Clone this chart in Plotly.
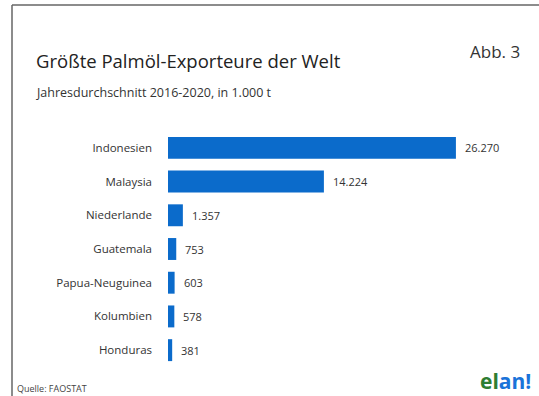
import plotly.graph_objects as go

countries = ["Indonesien", "Malaysia", "Niederlande", "Guatemala", "Papua-Neuguinea", "Kolumbien", "Honduras"]
values = [26270, 14224, 1357, 753, 603, 578, 381]

W, H = 539, 396
L, R, T, B = 168, 40, 131, 29
PW, PH = W - L - R, H - T - B

def px(x):
    return (x - L) / PW

def py(y):
    return 1 - (y - T) / PH

def fmt(v):
    return f"{v:,}".replace(",", ".")

FONT = "Open Sans"
BLUE = "#0B6BCB"

fig = go.Figure(go.Bar(
    x=values, y=countries, orientation="h",
    marker=dict(color=BLUE, line=dict(width=0)),
    hoverinfo="skip",
))

annotations = []
for c, v in zip(countries, values):
    annotations.append(dict(x=v, y=c, xref="x", yref="y", text=fmt(v), showarrow=False,
                            xanchor="left", yanchor="middle", xshift=7,
                            font=dict(family=FONT, size=11, color="#333")))

annotations += [
    dict(x=px(34), y=py(61), xref="paper", yref="paper", text="Größte Palmöl-Exporteure der Welt",
         showarrow=False, xanchor="left", yanchor="middle",
         font=dict(family=FONT, size=18.5, color="#222")),
    dict(x=px(34), y=py(92), xref="paper", yref="paper", text="Jahresdurchschnitt 2016-2020, in 1.000 t",
         showarrow=False, xanchor="left", yanchor="middle",
         font=dict(family=FONT, size=12.5, color="#333")),
    dict(x=px(522), y=py(51), xref="paper", yref="paper", text="Abb. 3",
         showarrow=False, xanchor="right", yanchor="middle",
         font=dict(family=FONT, size=17, color="#333")),
    dict(x=px(15), y=py(388), xref="paper", yref="paper", text="Quelle: FAOSTAT",
         showarrow=False, xanchor="left", yanchor="middle",
         font=dict(family=FONT, size=9, color="#444")),
    dict(x=px(533), y=py(381), xref="paper", yref="paper",
         text="<b><span style='color:#2E7D32'>el</span><span style='color:#1A73D9'>an!</span></b>",
         showarrow=False, xanchor="right", yanchor="middle",
         font=dict(family=FONT, size=21)),
]

shapes = [
    dict(type="line", xref="paper", yref="paper", x0=px(12), x1=px(12), y0=py(5), y1=py(400),
         line=dict(color="#666", width=1.5)),
    dict(type="line", xref="paper", yref="paper", x0=px(12), x1=px(545), y0=py(5), y1=py(5),
         line=dict(color="#666", width=1.5)),
]

fig.update_layout(
    width=W, height=H,
    margin=dict(l=L, r=R, t=T, b=B),
    paper_bgcolor="white", plot_bgcolor="white",
    bargap=0.35,
    showlegend=False,
    xaxis=dict(range=[0, PW / 0.01096], visible=False, fixedrange=True),
    yaxis=dict(autorange="reversed", showgrid=False, zeroline=False, showline=False,
               ticks="", ticklabelstandoff=15,
               tickfont=dict(family=FONT, size=11.5, color="#333"), fixedrange=True),
    annotations=annotations,
    shapes=shapes,
)

fig.write_html("out.html")
